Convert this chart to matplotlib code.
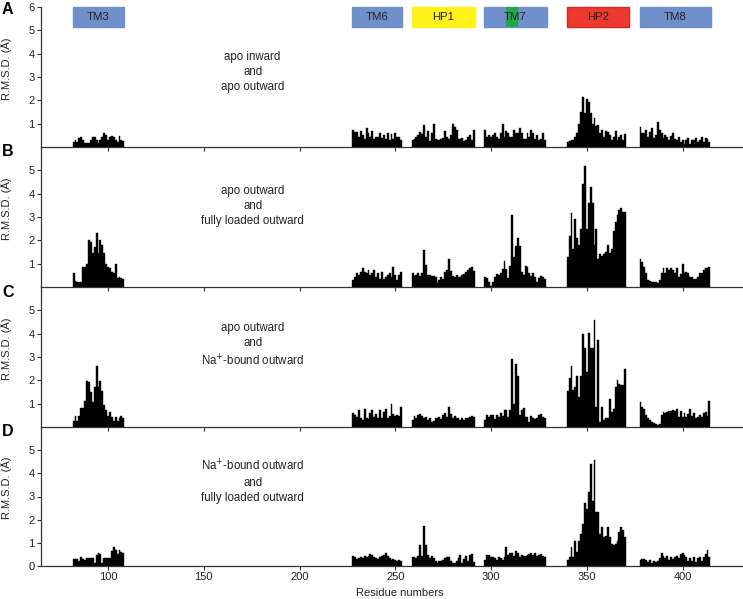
import numpy as np
import matplotlib.pyplot as plt

plt.rcParams['font.family'] = ['Liberation Sans', 'DejaVu Sans']

# first residue of each segment (TM3, TM6, HP1, TM7, HP2, TM8)
seg_start = [82, 228, 259, 297, 340, 378]

a_tm3 = [0.23, 0.3, 0.23, 0.37, 0.44, 0.3, 0.16, 0.16, 0.16, 0.3, 0.41, 0.44, 0.3, 0.16, 0.3, 0.41, 0.61, 0.51, 0.3, 0.41, 0.47, 0.44, 0.3, 0.23, 0.47, 0.3, 0.27]
a_tm6 = [0.75, 0.65, 0.65, 0.45, 0.7, 0.5, 0.35, 0.8, 0.6, 0.45, 0.7, 0.35, 0.45, 0.45, 0.6, 0.4, 0.5, 0.35, 0.6, 0.3, 0.55, 0.33, 0.58, 0.45, 0.45, 0.3]
a_hp1 = [0.3, 0.35, 0.45, 0.5, 0.65, 0.55, 0.95, 0.45, 0.7, 0.25, 0.6, 1.0, 0.35, 0.3, 0.3, 0.35, 0.4, 0.7, 0.45, 0.35, 0.5, 1.0, 0.85, 0.75, 0.35, 0.35, 0.4, 0.25, 0.3, 0.45, 0.5, 0.3, 0.75]
a_tm7 = [0.75, 0.45, 0.5, 0.45, 0.5, 0.6, 0.45, 0.35, 0.6, 1.0, 0.45, 0.7, 0.6, 0.45, 0.45, 0.75, 0.6, 0.6, 0.8, 0.6, 0.35, 0.35, 0.6, 0.45, 0.75, 0.6, 0.35, 0.5, 0.3, 0.35, 0.6, 0.3]
a_hp2 = [0.2, 0.25, 0.3, 0.3, 0.45, 0.6, 1.0, 1.5, 2.15, 1.45, 2.05, 1.95, 1.45, 1.0, 1.25, 0.9, 0.95, 0.6, 0.75, 0.45, 0.7, 0.65, 0.5, 0.3, 0.45, 0.7, 0.3, 0.45, 0.5, 0.3, 0.55]
a_tm8 = [0.87, 0.58, 0.58, 0.73, 0.45, 0.65, 0.8, 0.37, 0.5, 1.08, 0.73, 0.58, 0.37, 0.5, 0.45, 0.3, 0.47, 0.58, 0.33, 0.3, 0.45, 0.23, 0.3, 0.13, 0.3, 0.37, 0.15, 0.3, 0.3, 0.37, 0.23, 0.3, 0.45, 0.23, 0.37, 0.33, 0.23]

b_tm3 = [0.58, 0.25, 0.23, 0.23, 0.23, 0.87, 0.87, 1.0, 2.0, 1.94, 1.45, 1.72, 2.3, 1.45, 2.0, 1.8, 1.45, 1.0, 0.87, 0.8, 0.65, 0.58, 1.0, 0.37, 0.44, 0.4, 0.33]
b_tm6 = [0.3, 0.41, 0.58, 0.5, 0.65, 0.8, 0.65, 0.58, 0.72, 0.5, 0.6, 0.72, 0.45, 0.6, 0.35, 0.65, 0.35, 0.45, 0.5, 0.6, 0.45, 0.84, 0.5, 0.3, 0.5, 0.65]
b_hp1 = [0.58, 0.47, 0.51, 0.58, 0.47, 0.61, 1.58, 0.94, 0.51, 0.51, 0.47, 0.47, 0.41, 0.16, 0.3, 0.44, 0.33, 0.65, 0.72, 1.2, 0.7, 0.47, 0.41, 0.51, 0.41, 0.44, 0.51, 0.55, 0.65, 0.72, 0.8, 0.84, 0.7]
b_tm7 = [0.45, 0.37, 0.2, 0.05, 0.22, 0.45, 0.55, 0.5, 0.6, 0.77, 1.12, 0.77, 0.37, 0.9, 3.08, 1.3, 1.75, 2.08, 1.75, 0.66, 0.5, 0.9, 0.87, 0.58, 0.47, 0.58, 0.41, 0.23, 0.37, 0.47, 0.44, 0.33]
b_hp2 = [1.3, 2.2, 3.15, 1.65, 2.9, 2.1, 1.8, 2.5, 4.43, 5.17, 2.5, 3.6, 4.3, 3.6, 1.8, 2.5, 1.2, 1.4, 1.35, 1.4, 1.5, 1.8, 1.45, 1.65, 2.4, 2.8, 3.1, 3.3, 3.4, 3.2, 3.2]
b_tm8 = [1.2, 1.08, 0.87, 0.58, 0.3, 0.27, 0.23, 0.23, 0.23, 0.19, 0.3, 0.58, 0.83, 0.58, 0.8, 0.75, 0.8, 0.72, 0.58, 0.8, 0.44, 0.55, 0.98, 0.58, 0.65, 0.58, 0.44, 0.41, 0.33, 0.33, 0.44, 0.58, 0.61, 0.72, 0.8, 0.83, 0.87]

c_tm3 = [0.26, 0.47, 0.26, 0.47, 0.8, 0.8, 1.1, 1.97, 1.94, 1.5, 1.08, 1.72, 2.63, 1.72, 1.97, 1.54, 0.94, 0.73, 0.47, 0.66, 0.44, 0.26, 0.44, 0.26, 0.4, 0.47, 0.4]
c_tm6 = [0.58, 0.51, 0.44, 0.73, 0.37, 0.3, 0.76, 0.37, 0.34, 0.58, 0.73, 0.44, 0.54, 0.37, 0.73, 0.37, 0.66, 0.77, 0.4, 0.48, 0.99, 0.54, 0.48, 0.51, 0.48, 0.86]
c_hp1 = [0.3, 0.49, 0.37, 0.51, 0.54, 0.49, 0.37, 0.44, 0.3, 0.37, 0.23, 0.26, 0.37, 0.37, 0.44, 0.34, 0.51, 0.58, 0.44, 0.86, 0.54, 0.4, 0.49, 0.37, 0.4, 0.3, 0.37, 0.3, 0.37, 0.37, 0.44, 0.47, 0.44]
c_tm7 = [0.3, 0.5, 0.44, 0.5, 0.5, 0.34, 0.5, 0.44, 0.58, 0.47, 0.73, 0.73, 0.44, 0.73, 2.93, 1.0, 2.7, 2.18, 0.5, 0.73, 0.83, 0.44, 0.44, 0.23, 0.47, 0.37, 0.33, 0.37, 0.5, 0.55, 0.44, 0.37]
c_hp2 = [1.55, 2.1, 2.6, 1.6, 1.7, 2.2, 1.3, 2.2, 4.0, 3.4, 2.35, 4.05, 3.4, 3.4, 4.6, 0.85, 3.75, 0.23, 0.85, 0.3, 0.37, 0.37, 1.2, 0.65, 0.77, 1.7, 2.0, 1.85, 1.82, 1.82, 2.5]
c_tm8 = [1.06, 0.87, 0.77, 0.51, 0.37, 0.3, 0.2, 0.16, 0.11, 0.09, 0.11, 0.51, 0.63, 0.58, 0.66, 0.69, 0.69, 0.73, 0.69, 0.77, 0.44, 0.69, 0.44, 0.61, 0.44, 0.54, 0.77, 0.49, 0.58, 0.37, 0.44, 0.51, 0.44, 0.58, 0.66, 0.49, 1.11]

d_tm3 = [0.3, 0.3, 0.3, 0.23, 0.37, 0.3, 0.26, 0.33, 0.33, 0.33, 0.33, 0.11, 0.47, 0.57, 0.51, 0.14, 0.33, 0.33, 0.36, 0.33, 0.66, 0.8, 0.71, 0.51, 0.71, 0.61, 0.57]
d_tm6 = [0.43, 0.37, 0.29, 0.33, 0.4, 0.33, 0.43, 0.37, 0.43, 0.51, 0.47, 0.4, 0.33, 0.29, 0.37, 0.43, 0.47, 0.54, 0.43, 0.33, 0.26, 0.29, 0.26, 0.23, 0.26, 0.23]
d_hp1 = [0.4, 0.37, 0.33, 0.43, 0.9, 0.43, 1.73, 0.9, 0.47, 0.33, 0.43, 0.33, 0.23, 0.14, 0.23, 0.21, 0.26, 0.33, 0.4, 0.4, 0.23, 0.14, 0.11, 0.23, 0.33, 0.47, 0.14, 0.29, 0.43, 0.23, 0.47, 0.51, 0.19]
d_tm7 = [0.28, 0.47, 0.47, 0.37, 0.4, 0.33, 0.28, 0.37, 0.33, 0.28, 0.4, 0.83, 0.47, 0.57, 0.54, 0.43, 0.66, 0.54, 0.4, 0.47, 0.43, 0.43, 0.47, 0.51, 0.54, 0.47, 0.54, 0.43, 0.47, 0.51, 0.43, 0.38]
d_hp2 = [0.28, 0.4, 0.8, 0.37, 1.1, 0.6, 1.1, 1.4, 1.83, 2.7, 2.47, 3.2, 4.4, 2.8, 4.57, 2.33, 2.33, 1.4, 1.7, 1.26, 1.29, 1.7, 1.26, 0.97, 0.9, 0.94, 1.1, 1.47, 1.69, 1.57, 1.26]
d_tm8 = [0.26, 0.29, 0.29, 0.26, 0.19, 0.26, 0.14, 0.23, 0.19, 0.23, 0.33, 0.57, 0.43, 0.33, 0.43, 0.26, 0.37, 0.29, 0.37, 0.43, 0.33, 0.51, 0.57, 0.47, 0.4, 0.23, 0.33, 0.23, 0.37, 0.19, 0.33, 0.4, 0.23, 0.4, 0.51, 0.71, 0.4]

panels = [
    [a_tm3, a_tm6, a_hp1, a_tm7, a_hp2, a_tm8],
    [b_tm3, b_tm6, b_hp1, b_tm7, b_hp2, b_tm8],
    [c_tm3, c_tm6, c_hp1, c_tm7, c_hp2, c_tm8],
    [d_tm3, d_tm6, d_hp1, d_tm7, d_hp2, d_tm8],
]
letters = ['A', 'B', 'C', 'D']
notes = ['apo inward\nand\napo outward',
         'apo outward\nand\nfully loaded outward',
         'apo outward\nand\nNa$^{+}$-bound outward',
         'Na$^{+}$-bound outward\nand\nfully loaded outward']
note_y = [3.2, 3.47, 3.5, 3.65]

# domain boxes above panel A
box_names = ['TM3', 'TM6', 'HP1', 'TM7', 'HP2', 'TM8']
box_left = [81.5, 227.5, 258.5, 296.5, 339.7, 377.8]
box_right = [108.5, 253.5, 291.8, 329.0, 372.0, 414.7]
box_colors = ['#7090CC', '#7090CC', '#FFF21A', '#7090CC', '#EE3A2E', '#7090CC']
green_band = (307.8, 314.0)

W, H = 743, 599
fig = plt.figure(figsize=(W / 100, H / 100), dpi=100)
tops = [7, 147, 287, 427]
bots = [147, 287, 427, 566]
fs = 8
axes = []
for k in range(4):
    ax = fig.add_axes([41 / W, 1 - bots[k] / H, 701 / W, (bots[k] - tops[k]) / H])
    axes.append(ax)
    res = []
    vals = []
    for s, seg in zip(seg_start, panels[k]):
        res.extend(range(s, s + len(seg)))
        vals.extend(seg)
    ax.bar(res, vals, width=1.0, color='black', edgecolor='black', linewidth=0.3)
    ax.set_xlim(65, 431)
    ax.set_ylim(0, 6)
    ax.spines['top'].set_visible(False)
    ax.spines['right'].set_visible(False)
    for sp in ['left', 'bottom']:
        ax.spines[sp].set_linewidth(0.9)
        ax.spines[sp].set_color('#333333')
    ax.set_xticks([100, 150, 200, 250, 300, 350, 400])
    if k == 0:
        ax.set_yticks([1, 2, 3, 4, 5, 6])
    elif k == 3:
        ax.set_yticks([0, 1, 2, 3, 4, 5])
    else:
        ax.set_yticks([1, 2, 3, 4, 5])
    ax.tick_params(axis='both', direction='out', length=3, width=0.8, colors='#333333',
                   labelsize=fs, labelcolor='#222222', pad=1.5)
    if k < 3:
        ax.tick_params(axis='x', labelbottom=False)
    ax.set_ylabel('R.M.S.D. (Å)', fontsize=fs, color='#222222')
    ax.yaxis.set_label_coords(-0.041, 0.56)
    ax.text(175.5, note_y[k], notes[k], ha='center', va='center', fontsize=8.3,
            color='#222222', linespacing=1.35)
    ax.patch.set_alpha(0)

ax = axes[0]
for name, l, r, c in zip(box_names, box_left, box_right, box_colors):
    ec = '#CC2A22' if name == 'HP2' else c
    ax.add_patch(plt.Rectangle((l, 5.15), r - l, 0.85, facecolor=c, edgecolor=ec,
                               linewidth=1.0, clip_on=False, zorder=3))
    if name == 'TM7':
        ax.add_patch(plt.Rectangle((green_band[0], 5.15), green_band[1] - green_band[0], 0.85,
                                   facecolor='#1FA84A', edgecolor='none', clip_on=False, zorder=4))
    ax.text((l + r) / 2, 5.58, name, ha='center', va='center', fontsize=8.2,
            color='#222222', zorder=5)

for k, yc in enumerate([10, 152, 292, 432]):
    fig.text(2 / W, 1 - yc / H, letters[k], fontsize=11.5, fontweight='bold',
             ha='left', va='center')

fig.text(400 / W, 1 - 593 / H, 'Residue numbers', ha='center', va='center',
         fontsize=fs, color='#222222')

plt.savefig('out.png', dpi=100)
